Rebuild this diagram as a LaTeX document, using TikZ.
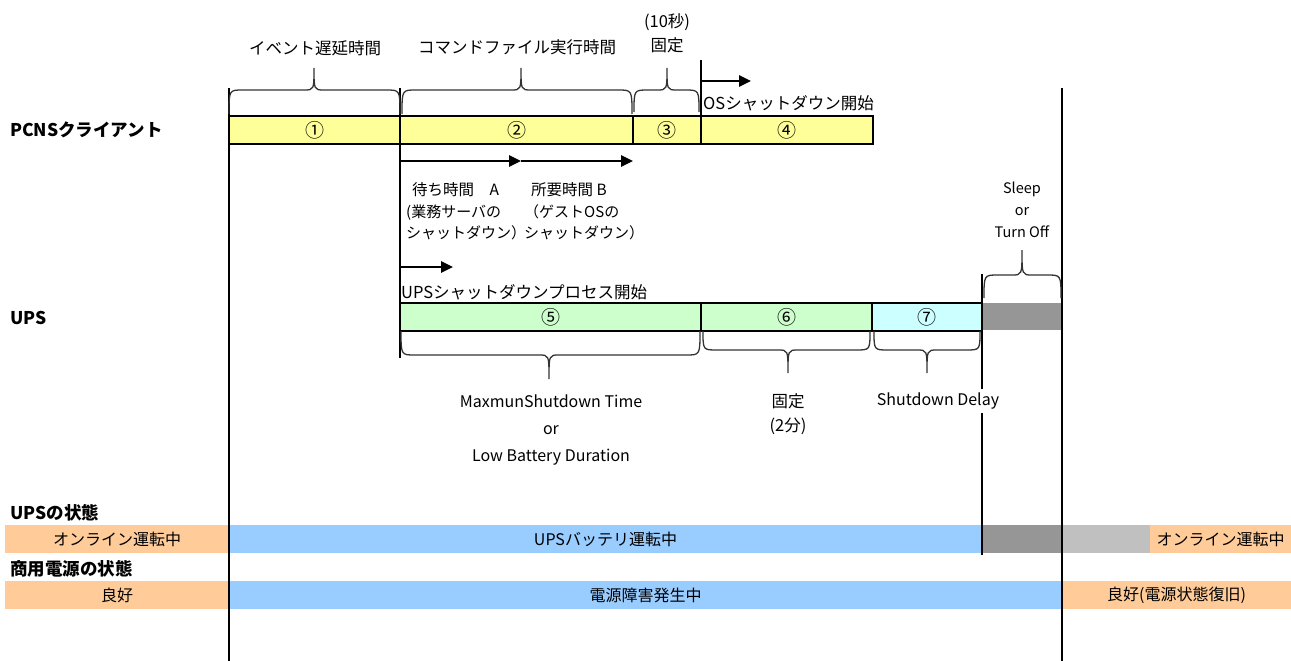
\documentclass[tikz,border=0pt]{standalone}
\usepackage{fontspec}
\setmainfont{Noto Sans CJK JP}
\usetikzlibrary{arrows.meta}
\definecolor{ybar}{HTML}{FFFF99}
\definecolor{gbar}{HTML}{CCFFCC}
\definecolor{cbar}{HTML}{CCFFFF}
\definecolor{dgray}{HTML}{969696}
\definecolor{lgray}{HTML}{C0C0C0}
\definecolor{obar}{HTML}{FFCC99}
\definecolor{bbar}{HTML}{99CCFF}
\newcommand{\mybrace}[6]{%
  \draw[bracestyle] (#1,#4) .. controls (#1,#5) .. ({#1+14},#5) -- ({#3-10},#5)
    .. controls (#3,#5) .. (#3,#6) .. controls (#3,#5) .. ({#3+10},#5)
    -- ({#2-14},#5) .. controls (#2,#5) .. (#2,#4);}
\begin{document}
\begin{tikzpicture}[x=1pt,y=-1pt,
  every node/.style={inner sep=0pt},
  lbl/.style={font=\fontsize{16.5}{20}\selectfont},
  small/.style={font=\fontsize{15}{21}\selectfont, anchor=west},
  head/.style={font=\fontsize{17.5}{20}\selectfont\bfseries, anchor=west},
  seg/.style={draw=black, line width=1.4pt, minimum height=28pt, font=\fontsize{19}{20}\selectfont},
  band/.style={minimum height=28pt, font=\fontsize{16}{18}\selectfont},
  vline/.style={line width=2.9pt},
  arr/.style={line width=2.7pt, -{Triangle[length=12pt,width=11pt]}},
  bracestyle/.style={line width=1.3pt, draw=black!80},
]
\useasboundingbox (0,0) rectangle (1291,661);

% ---- status rows ----
\node[band, fill=obar, minimum width=224pt] (r1a) at (117,539) {オンライン運転中};
\node[band, fill=bbar, minimum width=753pt] (r1b) at (605.5,539) {UPSバッテリ運転中};
\node[band, fill=dgray, minimum width=80pt] (r1c) at (1022,539) {};
\node[band, fill=lgray, minimum width=88pt] (r1d) at (1106,539) {};
\node[band, fill=obar, minimum width=141pt] (r1e) at (1220.5,539) {オンライン運転中};

\node[band, fill=obar, minimum width=224pt] (r2a) at (117,595) {良好};
\node[band, fill=bbar, minimum width=833pt] (r2b) at (645.5,595) {電源障害発生中};
\node[band, fill=obar, minimum width=229pt] (r2c) at (1176.5,595) {良好(電源状態復旧)};

% ---- PCNS bar ----
\node[seg, fill=ybar, minimum width=171pt] (s1) at (314.5,130) {①};
\node[seg, fill=ybar, minimum width=233pt] (s2) at (516.5,130) {②};
\node[seg, fill=ybar, minimum width=68pt] (s3) at (667,130) {③};
\node[seg, fill=ybar, minimum width=172pt] (s4) at (787,130) {④};

% ---- UPS bar ----
\node[seg, fill=gbar, minimum width=301pt] (u5) at (550.5,317) {⑤};
\node[seg, fill=gbar, minimum width=171pt] (u6) at (786.5,317) {⑥};
\node[seg, fill=cbar, minimum width=110pt] (u7) at (927,317) {⑦};
\node[band, fill=dgray, minimum width=80pt, minimum height=27pt] (ug) at (1022,316) {};

% ---- row headers ----
\node[head] (hp) at (10,130) {PCNSクライアント};
\node[head] (hu) at (10,318) {UPS};
\node[head] (hs) at (10,513) {UPSの状態};
\node[head] (hc) at (10,569) {商用電源の状態};

% ---- vertical lines ----
\coordinate (v1t) at (229,88);  \coordinate (v1b) at (229,661);
\coordinate (v2t) at (400,88);  \coordinate (v2b) at (400,358);
\coordinate (v3t) at (701,60);  \coordinate (v3b) at (701,145);
\coordinate (v4t) at (982,274); \coordinate (v4b) at (982,555);
\coordinate (v5t) at (1062,88); \coordinate (v5b) at (1062,661);
\draw[vline] (v1t) -- (v1b);
\draw[vline] (v2t) -- (v2b);
\draw[vline] (v3t) -- (v3b);
\draw[vline] (v4t) -- (v4b);
\draw[vline] (v5t) -- (v5b);

% ---- arrows ----
\coordinate (a1s) at (701,81);  \coordinate (a1e) at (751,81);
\coordinate (a2s) at (400,161); \coordinate (a2e) at (521,161);
\coordinate (a3e) at (633,161);
\coordinate (a4s) at (400,267); \coordinate (a4e) at (453,267);
\draw[arr] (a1s) -- (a1e);
\draw[arr] (a2s) -- (a2e);
\draw[arr] (a2e) -- (a3e);
\draw[arr] (a4s) -- (a4e);

% ---- braces ----
\mybrace{229}{400}{314}{114}{90}{68}
\mybrace{402}{632}{521}{114}{90}{68}
\mybrace{634}{699}{667}{112}{90}{68}
\mybrace{984}{1061}{1022}{298}{275}{250}
\mybrace{401}{700}{549}{331}{355}{379}
\mybrace{703}{870}{788}{331}{350}{373}
\mybrace{874}{980}{927}{331}{350}{373}

% ---- labels ----
\node[lbl] (l1) at (315,48) {イベント遅延時間};
\node[lbl] (l2) at (517,47) {コマンドファイル実行時間};
\node[lbl, align=center, font=\fontsize{16.5}{24}\selectfont] (l3) at (667,33) {(10秒)\\固定};
\node[lbl, anchor=west] (l4) at (703,103) {OSシャットダウン開始};
\node[lbl, anchor=west] (l5) at (401,292) {UPSシャットダウンプロセス開始};

\node[small, font=\fontsize{15.5}{20}\selectfont] (wa) at (412,190) {待ち時間　A};
\node[small, font=\fontsize{15.5}{20}\selectfont] (wb) at (531,190) {所要時間 B};
\node[small, align=left] (wa2) at (406,222) {(業務サーバの\\シャットダウン）};
\node[small, align=left] (wb2) at (524,222) {（ゲストOSの\\シャットダウン）};

\node[lbl, align=center, font=\fontsize{14.5}{22}\selectfont] (sl) at (1022,210) {Sleep\\or\\Turn Off};
\node[lbl, align=center, font=\fontsize{16}{27}\selectfont] (mx) at (551,430) {MaxmunShutdown Time\\or\\Low Battery Duration};
\node[lbl, align=center, font=\fontsize{16.5}{24}\selectfont] (fx) at (788,414) {固定\\(2分)};
\node[lbl, fill=white, inner ysep=4pt, font=\fontsize{16}{18}\selectfont] (sd) at (938,401) {Shutdown Delay};
\end{tikzpicture}
\end{document}
